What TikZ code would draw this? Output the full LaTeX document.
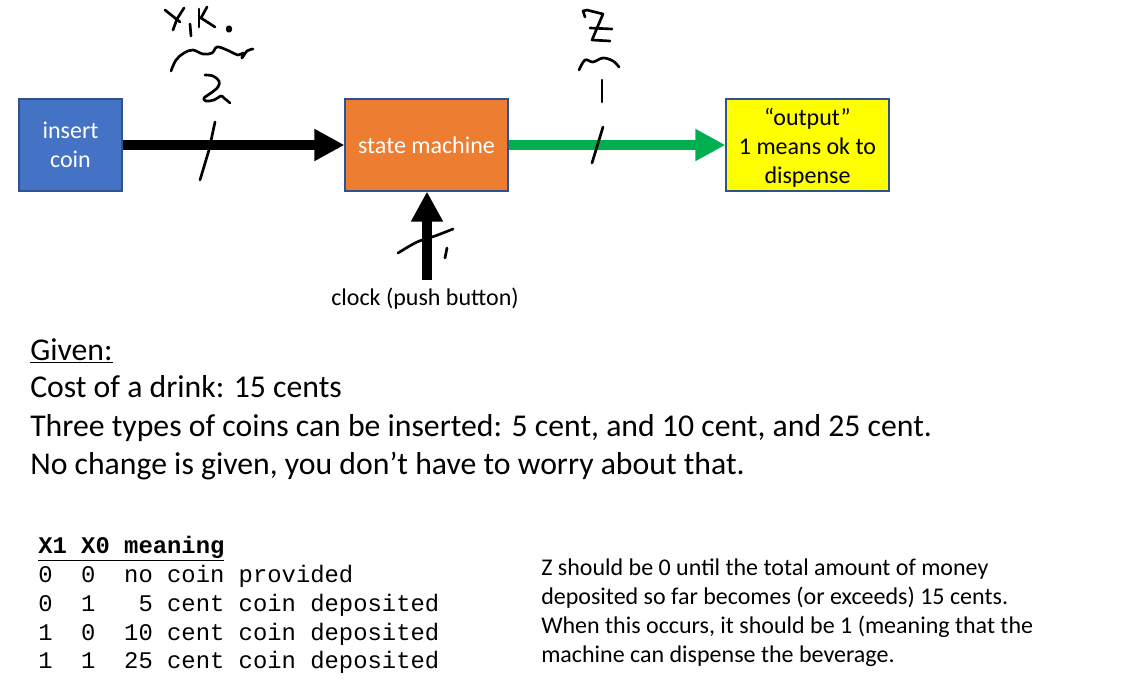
\documentclass[tikz,border=0pt]{standalone}
\usepackage{fontspec}
\setmainfont{Carlito}
\newfontfamily\courier{Liberation Mono}
\usetikzlibrary{arrows.meta}
\definecolor{ofblue}{HTML}{4472C4}
\definecolor{oforange}{HTML}{ED7D31}
\definecolor{ofborder}{HTML}{2F528F}
\definecolor{ofgreen}{HTML}{00B050}
\definecolor{ofyellow}{HTML}{FFFF00}
\tikzset{
  blk/.style={draw=ofborder, line width=0.8pt, minimum height=69pt, inner sep=0pt, align=center,
    font=\fontsize{18}{21.75}\selectfont},
  bigarrow/.style={line width=7.5pt, -{Triangle[width=22.5pt,length=22.5pt]}},
  pen/.style={line width=2pt, line cap=round, line join=round, black},
  given/.style={anchor=base west, inner sep=0pt, font=\fontsize{23.8}{28}\selectfont},
  tbl/.style={anchor=base west, inner sep=0pt, font=\courier\fontsize{17.9}{20}\selectfont},
  note/.style={anchor=base west, inner sep=0pt, font=\fontsize{18}{22}\selectfont}
}
\begin{document}
\begin{tikzpicture}[x=0.75pt,y=-0.75pt]
\useasboundingbox[fill=white] (0,0) rectangle (1143,693);
% boxes
\node[blk, fill=ofblue, text=white, minimum width=77.25pt] (coin) at (70.5,145) {insert\\coin};
\node[blk, fill=oforange, text=white, minimum width=122.25pt] (sm) at (426.5,145) {state machine};
\node[blk, fill=ofyellow, text=black, minimum width=122.25pt] (out) at (807.5,145) {\raisebox{-3pt}[\height][\depth]{\begin{tabular}{@{}c@{}}“output”\\1 means ok to\\dispense\end{tabular}}};
% arrows
\draw[bigarrow, black] (coin.east) -- (sm.west);
\draw[bigarrow, ofgreen] (sm.east) -- (out.west);
\coordinate (clk) at (427,280);
\draw[bigarrow, black] (clk) -- (sm.south -| clk);
\node[anchor=base, inner sep=0pt, font=\fontsize{18}{22}\selectfont] (clklbl) at (425,305) {clock (push button)};
% handwriting: X1 X0 / bus width 2
\draw[pen] (165,10) -- (180,22);
\draw[pen] (184,8) -- (177,19) -- (173,30);
\draw[pen] (190,24) -- (191,36);
\draw[pen] (199,9) -- (199,27);
\draw[pen] (207,7) -- (201,18) -- (215,27);
\draw[pen] (229,29) ellipse (1.8 and 2.3);
\draw[pen] plot[smooth, tension=0.6] coordinates {(171,71) (176,60) (184,53) (193,50) (203,54) (212,53) (217,47) (227,50) (238,55) (243,53) (242,58) (247,51) (253,49)};
\draw[pen] plot[smooth, tension=0.6] coordinates {(205,75) (213,76) (219,81) (218,87) (211,93) (204,98) (206,101) (214,100) (221,96) (224,98) (230,103)};
\draw[pen] (215,122) -- (209,150) -- (200,180);
% handwriting: Z / 1
\draw[pen] (585,17) -- (583,11) -- (587,10) -- (603,14) -- (592,40) -- (610,41);
\draw[pen] (590,28) -- (612,29);
\draw[pen] plot[smooth, tension=0.6] coordinates {(579,70) (585,60) (593,62) (603,58) (613,61) (619,67)};
\draw[pen] (602,80) -- (602,102);
\draw[pen] (603,127) -- (592,163);
% handwriting: clock slash / 1
\draw[pen] plot[smooth, tension=0.5] coordinates {(398,253) (417,242) (435,236) (453,229)};
\draw[pen] (447,248) -- (445,258);
% Given text
\node[given] (g0) at (30,360) {\underline{Given:}};
\node[given] (g1) at (30,397) {Cost of a drink: 15 cents};
\node[given] (g2) at (30,436) {Three types of coins can be inserted: 5 cent, and 10 cent, and 25 cent.};
\node[given] (g3) at (30,474) {No change is given, you don’t have to worry about that.};
% table
\node[tbl] (t0) at (38,553) {\bfseries\underline{X1~X0~meaning}};
\node[tbl] (t1) at (38,582) {0~~0~~no~coin~provided};
\node[tbl] (t2) at (38,611) {0~~1~~~5~cent~coin~deposited};
\node[tbl] (t3) at (38,640) {1~~0~~10~cent~coin~deposited};
\node[tbl] (t4) at (38,668) {1~~1~~25~cent~coin~deposited};
% note
\node[note] (n1) at (541,575) {Z should be 0 until the total amount of money};
\node[note] (n2) at (541,604) {deposited so far becomes (or exceeds) 15 cents.};
\node[note] (n3) at (541,633) {When this occurs, it should be 1 (meaning that the};
\node[note] (n4) at (541,662) {machine can dispense the beverage.};
\end{tikzpicture}
\end{document}
